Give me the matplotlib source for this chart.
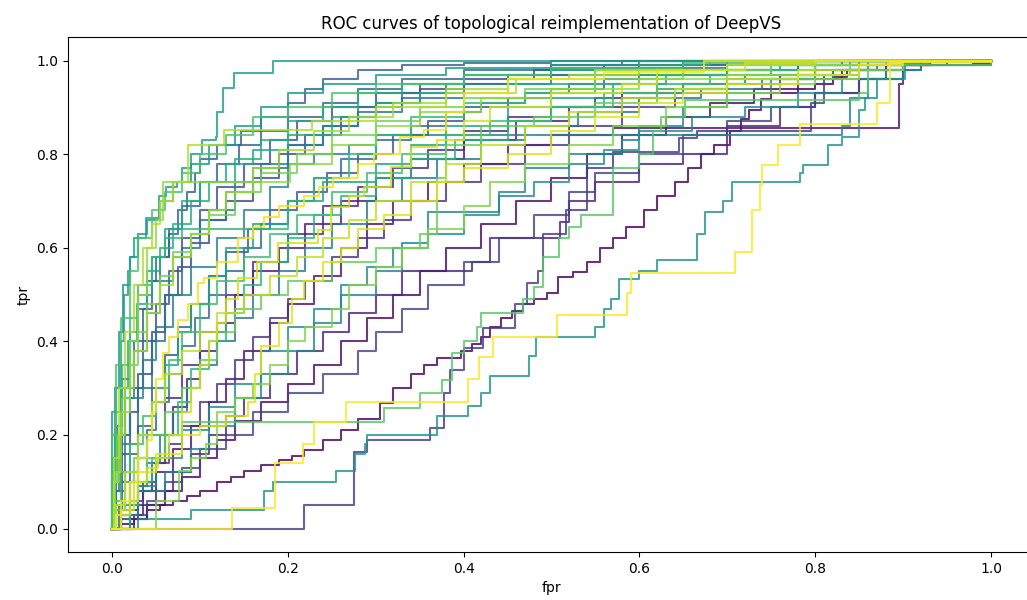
import matplotlib
matplotlib.use('Agg')
import matplotlib.pyplot as plt
import numpy as np

# ROC corner points (fpr, tpr): at each fpr the tpr jumps to the given value
roc_00 = [(0, 0), (0.01, 0.01), (0.025, 0.02), (0.04, 0.04), (0.055, 0.05), (0.07, 0.06), (0.085, 0.07),
          (0.1, 0.08), (0.12, 0.1), (0.135, 0.11), (0.15, 0.124), (0.17, 0.135), (0.19, 0.146), (0.205, 0.155),
          (0.218, 0.167), (0.24, 0.19), (0.26, 0.21), (0.28, 0.235), (0.305, 0.268), (0.32, 0.3), (0.34, 0.33),
          (0.355, 0.35), (0.37, 0.364), (0.397, 0.38), (0.41, 0.395), (0.42, 0.41), (0.43, 0.43), (0.442, 0.45),
          (0.455, 0.465), (0.468, 0.48), (0.48, 0.49), (0.495, 0.503), (0.507, 0.537), (0.525, 0.548),
          (0.54, 0.57), (0.555, 0.6), (0.57, 0.62), (0.585, 0.645), (0.605, 0.68), (0.62, 0.71), (0.64, 0.74),
          (0.655, 0.77), (0.67, 0.8), (0.685, 0.82), (0.703, 0.85), (0.715, 0.875), (0.725, 0.895),
          (0.738, 0.917), (0.75, 0.93), (0.78, 0.94), (0.8, 0.95), (0.82, 0.965), (0.836, 0.98), (0.86, 0.99),
          (0.98, 0.995), (1.0, 1.0)]
roc_01 = [(0, 0), (0.02, 0.02), (0.04, 0.05), (0.06, 0.08), (0.08, 0.11), (0.1, 0.15), (0.12, 0.19), (0.14, 0.23),
          (0.17, 0.27), (0.2, 0.31), (0.23, 0.35), (0.26, 0.4), (0.29, 0.45), (0.32, 0.5), (0.35, 0.55), (0.38, 0.6),
          (0.42, 0.65), (0.46, 0.7), (0.5, 0.75), (0.54, 0.8), (0.58, 0.84), (0.63, 0.88), (0.68, 0.91),
          (0.73, 0.94), (0.78, 0.96), (0.83, 0.98), (0.88, 0.99), (0.93, 1.0), (1, 1)]
roc_02 = [(0, 0), (0.01, 0.04), (0.03, 0.08), (0.05, 0.12), (0.07, 0.17), (0.09, 0.22), (0.11, 0.27), (0.13, 0.32),
          (0.15, 0.38), (0.18, 0.44), (0.2, 0.48), (0.23, 0.54), (0.26, 0.6), (0.29, 0.65), (0.32, 0.7),
          (0.36, 0.74), (0.4, 0.78), (0.45, 0.82), (0.5, 0.84), (0.57, 0.857), (0.895, 0.95), (0.9, 0.99),
          (0.93, 1.0), (1, 1)]
roc_03 = [(0, 0), (0.025, 0.03), (0.035, 0.08), (0.045, 0.14), (0.06, 0.2), (0.07, 0.26), (0.085, 0.32), (0.1, 0.38),
          (0.12, 0.44), (0.14, 0.5), (0.16, 0.55), (0.19, 0.6), (0.22, 0.65), (0.26, 0.7), (0.3, 0.75), (0.34, 0.79),
          (0.4, 0.83), (0.46, 0.87), (0.52, 0.9), (0.58, 0.93), (0.65, 0.95), (0.72, 0.97), (0.8, 0.99),
          (0.85, 1.0), (1, 1)]
roc_04 = [(0, 0), (0.01, 0.02), (0.03, 0.05), (0.05, 0.08), (0.07, 0.12), (0.09, 0.16), (0.11, 0.2), (0.13, 0.24),
          (0.15, 0.28), (0.18, 0.33), (0.21, 0.38), (0.24, 0.42), (0.27, 0.46), (0.3, 0.5), (0.33, 0.55),
          (0.41, 0.57), (0.43, 0.62), (0.51, 0.655), (0.52, 0.7), (0.55, 0.74), (0.6, 0.78), (0.65, 0.8),
          (0.7, 0.86), (0.76, 0.9), (0.8, 0.93), (0.85, 0.96), (0.88, 0.98), (0.92, 1.0), (1, 1)]
roc_05 = [(0, 0), (0.01, 0.05), (0.02, 0.1), (0.03, 0.15), (0.04, 0.2), (0.06, 0.28), (0.08, 0.35), (0.1, 0.42),
          (0.13, 0.5), (0.16, 0.57), (0.2, 0.63), (0.24, 0.69), (0.28, 0.73), (0.32, 0.77), (0.36, 0.81),
          (0.4, 0.85), (0.45, 0.88), (0.5, 0.9), (0.55, 0.92), (0.62, 0.94), (0.7, 0.96), (0.8, 0.98),
          (0.9, 0.99), (1, 1)]
roc_06 = [(0, 0), (0.01, 0.03), (0.02, 0.06), (0.035, 0.1), (0.05, 0.14), (0.065, 0.18), (0.08, 0.22), (0.1, 0.27),
          (0.12, 0.31), (0.14, 0.36), (0.16, 0.41), (0.18, 0.45), (0.2, 0.49), (0.22, 0.53), (0.25, 0.58),
          (0.28, 0.62), (0.31, 0.66), (0.34, 0.7), (0.38, 0.74), (0.42, 0.78), (0.47, 0.82), (0.52, 0.86),
          (0.58, 0.9), (0.64, 0.93), (0.7, 0.95), (0.76, 0.97), (0.82, 0.98), (0.88, 0.99), (0.93, 1.0), (1, 1)]
roc_07 = [(0, 0), (0.218, 0.05), (0.275, 0.163), (0.29, 0.19), (0.362, 0.215), (0.378, 0.29), (0.385, 0.338),
          (0.4, 0.385), (0.422, 0.428), (0.459, 0.48), (0.472, 0.525), (0.485, 0.55), (0.49, 0.63), (0.516, 0.68),
          (0.54, 0.77), (0.57, 0.805), (0.645, 0.835), (0.666, 0.85), (0.795, 0.91), (0.81, 0.97), (0.85, 0.99),
          (1.0, 1.0)]
roc_08 = [(0, 0), (0.02, 0.03), (0.04, 0.06), (0.06, 0.1), (0.08, 0.13), (0.1, 0.17), (0.13, 0.2), (0.16, 0.25),
          (0.2, 0.29), (0.24, 0.33), (0.28, 0.38), (0.3, 0.42), (0.33, 0.47), (0.36, 0.52), (0.4, 0.57),
          (0.44, 0.62), (0.48, 0.67), (0.52, 0.72), (0.55, 0.76), (0.6, 0.8), (0.65, 0.84), (0.7, 0.87),
          (0.75, 0.9), (0.8, 0.93), (0.85, 0.96), (0.9, 0.99), (0.95, 1.0), (1, 1)]
roc_09 = [(0, 0), (0.004, 0.08), (0.01, 0.16), (0.02, 0.25), (0.03, 0.33), (0.045, 0.42), (0.06, 0.5), (0.075, 0.56),
          (0.09, 0.61), (0.11, 0.66), (0.13, 0.7), (0.16, 0.75), (0.19, 0.8), (0.22, 0.84), (0.26, 0.88),
          (0.3, 0.91), (0.35, 0.94), (0.4, 0.96), (0.48, 0.98), (0.56, 0.99), (0.65, 1.0), (1, 1)]
roc_10 = [(0, 0), (0.005, 0.1), (0.012, 0.2), (0.02, 0.3), (0.035, 0.4), (0.05, 0.48), (0.065, 0.55), (0.08, 0.62),
          (0.1, 0.68), (0.12, 0.73), (0.15, 0.78), (0.18, 0.83), (0.21, 0.87), (0.25, 0.9), (0.3, 0.93),
          (0.35, 0.95), (0.4, 0.97), (0.5, 0.985), (0.6, 0.99), (0.75, 1.0), (1, 1)]
roc_11 = [(0, 0), (0.005, 0.04), (0.012, 0.1), (0.02, 0.16), (0.03, 0.22), (0.045, 0.3), (0.06, 0.37), (0.075, 0.43),
          (0.09, 0.48), (0.11, 0.54), (0.13, 0.59), (0.155, 0.64), (0.18, 0.68), (0.21, 0.72), (0.245, 0.76),
          (0.28, 0.8), (0.32, 0.84), (0.36, 0.87), (0.4, 0.9), (0.45, 0.92), (0.5, 0.94), (0.56, 0.96),
          (0.62, 0.97), (0.7, 0.98), (0.78, 0.99), (0.85, 1.0), (1, 1)]
roc_12 = [(0, 0), (0.003, 0.1), (0.008, 0.2), (0.015, 0.3), (0.025, 0.4), (0.035, 0.47), (0.045, 0.53),
          (0.055, 0.58), (0.065, 0.63), (0.075, 0.68), (0.085, 0.72), (0.095, 0.76), (0.1, 0.79), (0.12, 0.82),
          (0.147, 0.85), (0.17, 0.88), (0.2, 0.91), (0.22, 0.94), (0.24, 0.96), (0.28, 0.98), (0.33, 0.99),
          (0.4, 0.995), (0.5, 1.0), (1, 1)]
roc_13 = [(0, 0), (0.002, 0.12), (0.006, 0.22), (0.012, 0.32), (0.02, 0.4), (0.03, 0.47), (0.04, 0.53), (0.05, 0.58),
          (0.065, 0.64), (0.08, 0.69), (0.1, 0.74), (0.12, 0.78), (0.145, 0.82), (0.17, 0.85), (0.2, 0.88),
          (0.24, 0.91), (0.28, 0.94), (0.33, 0.96), (0.4, 0.98), (0.5, 0.99), (0.58, 1.0), (1, 1)]
roc_14 = [(0, 0), (0.008, 0.05), (0.02, 0.1), (0.03, 0.15), (0.04, 0.21), (0.05, 0.27), (0.065, 0.33), (0.08, 0.39),
          (0.095, 0.45), (0.11, 0.5), (0.13, 0.55), (0.15, 0.6), (0.17, 0.65), (0.2, 0.7), (0.23, 0.75),
          (0.26, 0.79), (0.3, 0.83), (0.34, 0.86), (0.38, 0.89), (0.42, 0.91), (0.47, 0.93), (0.52, 0.95),
          (0.6, 0.97), (0.7, 0.98), (0.78, 0.99), (0.83, 1.0), (1, 1)]
roc_15 = [(0, 0), (0.005, 0.08), (0.015, 0.18), (0.03, 0.3), (0.045, 0.4), (0.06, 0.5), (0.08, 0.6), (0.1, 0.66),
          (0.13, 0.72), (0.16, 0.77), (0.2, 0.82), (0.24, 0.86), (0.28, 0.89), (0.33, 0.92), (0.4, 0.95),
          (0.5, 0.97), (0.6, 0.985), (0.7, 0.99), (0.8, 1.0), (1, 1)]
roc_16 = [(0, 0), (0.01, 0.02), (0.02, 0.05), (0.03, 0.09), (0.04, 0.14), (0.055, 0.2), (0.07, 0.25), (0.085, 0.3),
          (0.1, 0.35), (0.12, 0.4), (0.14, 0.45), (0.16, 0.5), (0.19, 0.55), (0.22, 0.6), (0.25, 0.65),
          (0.29, 0.7), (0.33, 0.75), (0.37, 0.79), (0.42, 0.83), (0.47, 0.86), (0.53, 0.89), (0.6, 0.92),
          (0.67, 0.94), (0.74, 0.96), (0.8, 0.98), (0.87, 0.99), (0.9, 1.0), (1, 1)]
roc_17 = [(0, 0), (0.002, 0.08), (0.008, 0.18), (0.015, 0.28), (0.025, 0.38), (0.04, 0.46), (0.055, 0.53),
          (0.07, 0.58), (0.09, 0.63), (0.11, 0.68), (0.14, 0.74), (0.17, 0.78), (0.2, 0.82), (0.24, 0.86),
          (0.28, 0.9), (0.33, 0.93), (0.38, 0.95), (0.45, 0.97), (0.55, 0.985), (0.65, 0.99), (0.7, 1.0), (1, 1)]
roc_18 = [(0, 0), (0.003, 0.1), (0.01, 0.2), (0.02, 0.28), (0.035, 0.36), (0.05, 0.43), (0.07, 0.5), (0.09, 0.56),
          (0.12, 0.62), (0.15, 0.68), (0.18, 0.73), (0.2, 0.78), (0.23, 0.8), (0.27, 0.82), (0.3, 0.84),
          (0.83, 0.86), (0.84, 0.92), (0.86, 0.96), (0.9, 0.99), (0.92, 1.0), (1, 1)]
roc_19 = [(0, 0), (0.01, 0.03), (0.03, 0.08), (0.06, 0.12), (0.09, 0.17), (0.11, 0.22), (0.14, 0.28), (0.17, 0.33),
          (0.2, 0.38), (0.23, 0.44), (0.26, 0.5), (0.3, 0.55), (0.33, 0.61), (0.36, 0.677), (0.44, 0.72),
          (0.47, 0.77), (0.52, 0.8), (0.58, 0.83), (0.6, 0.86), (0.65, 0.9), (0.7, 0.93), (0.75, 0.96),
          (0.82, 0.98), (0.9, 1.0), (1, 1)]
roc_20 = [(0, 0), (0.01, 0.05), (0.03, 0.09), (0.05, 0.15), (0.08, 0.21), (0.11, 0.26), (0.14, 0.31), (0.17, 0.38),
          (0.2, 0.43), (0.23, 0.47), (0.26, 0.52), (0.29, 0.56), (0.32, 0.6), (0.36, 0.63), (0.4, 0.67),
          (0.44, 0.71), (0.48, 0.74), (0.52, 0.78), (0.56, 0.81), (0.6, 0.85), (0.66, 0.88), (0.72, 0.9),
          (0.78, 0.93), (0.83, 0.96), (0.88, 0.98), (0.92, 1.0), (1, 1)]
roc_21 = [(0, 0), (0.03, 0.02), (0.09, 0.04), (0.173, 0.08), (0.183, 0.1), (0.255, 0.123), (0.277, 0.16),
          (0.288, 0.18), (0.29, 0.2), (0.37, 0.24), (0.405, 0.263), (0.42, 0.29), (0.43, 0.327), (0.474, 0.368),
          (0.482, 0.41), (0.55, 0.43), (0.56, 0.47), (0.568, 0.49), (0.577, 0.533), (0.6, 0.55), (0.62, 0.574),
          (0.666, 0.63), (0.675, 0.677), (0.695, 0.7), (0.705, 0.74), (0.783, 0.76), (0.786, 0.777),
          (0.815, 0.82), (0.83, 0.837), (0.85, 0.895), (0.857, 0.92), (0.87, 0.96), (0.902, 0.995),
          (0.93, 1.0), (1, 1)]
roc_22 = [(0, 0), (0.0, 0.15), (0.003, 0.3), (0.008, 0.42), (0.013, 0.52), (0.02, 0.58), (0.03, 0.63), (0.04, 0.66),
          (0.055, 0.7), (0.07, 0.74), (0.09, 0.78), (0.11, 0.82), (0.14, 0.86), (0.17, 0.9), (0.2, 0.93),
          (0.24, 0.95), (0.3, 0.97), (0.38, 0.985), (0.5, 0.99), (0.6, 1.0), (1, 1)]
roc_23 = [(0, 0), (0.0, 0.25), (0.005, 0.3), (0.01, 0.4), (0.014, 0.5), (0.018, 0.55), (0.02, 0.58), (0.025, 0.62),
          (0.039, 0.664), (0.054, 0.71), (0.061, 0.73), (0.074, 0.74), (0.08, 0.77), (0.09, 0.8), (0.103, 0.83),
          (0.118, 0.837), (0.12, 0.89), (0.126, 0.942), (0.139, 0.974), (0.183, 1.0), (1, 1)]
roc_24 = [(0, 0), (0.005, 0.05), (0.015, 0.12), (0.03, 0.2), (0.045, 0.27), (0.06, 0.35), (0.075, 0.42), (0.09, 0.48),
          (0.11, 0.54), (0.13, 0.6), (0.16, 0.65), (0.2, 0.7), (0.24, 0.74), (0.3, 0.78), (0.34, 0.82),
          (0.38, 0.86), (0.45, 0.9), (0.5, 0.92), (0.57, 0.95), (0.63, 0.97), (0.7, 0.98), (0.76, 0.99),
          (0.8, 1.0), (1, 1)]
roc_25 = [(0, 0), (0.002, 0.15), (0.01, 0.3), (0.02, 0.42), (0.03, 0.5), (0.045, 0.58), (0.06, 0.64), (0.08, 0.7),
          (0.1, 0.74), (0.13, 0.78), (0.16, 0.81), (0.2, 0.84), (0.25, 0.88), (0.3, 0.91), (0.35, 0.93),
          (0.45, 0.95), (0.55, 0.97), (0.65, 0.98), (0.75, 0.99), (0.9, 1.0), (1, 1)]
roc_26 = [(0, 0), (0.0, 0.1), (0.004, 0.2), (0.01, 0.3), (0.018, 0.4), (0.028, 0.48), (0.04, 0.55), (0.055, 0.6),
          (0.07, 0.65), (0.09, 0.7), (0.11, 0.74), (0.14, 0.79), (0.17, 0.83), (0.2, 0.87), (0.24, 0.9),
          (0.28, 0.93), (0.33, 0.95), (0.4, 0.97), (0.5, 0.98), (0.6, 0.99), (0.68, 1.0), (1, 1)]
roc_27 = [(0, 0), (0.02, 0.05), (0.03, 0.1), (0.045, 0.15), (0.06, 0.2), (0.075, 0.27), (0.09, 0.34), (0.11, 0.4),
          (0.13, 0.46), (0.15, 0.52), (0.17, 0.57), (0.2, 0.62), (0.23, 0.67), (0.26, 0.71), (0.3, 0.75),
          (0.34, 0.79), (0.39, 0.83), (0.45, 0.87), (0.5, 0.9), (0.56, 0.93), (0.62, 0.95), (0.68, 0.97),
          (0.75, 0.98), (0.8, 0.99), (0.84, 1.0), (1, 1)]
roc_28 = [(0, 0), (0.0, 0.12), (0.005, 0.25), (0.012, 0.35), (0.02, 0.45), (0.03, 0.52), (0.045, 0.58), (0.06, 0.62),
          (0.08, 0.64), (0.2, 0.7), (0.23, 0.75), (0.27, 0.8), (0.3, 0.84), (0.34, 0.88), (0.4, 0.91),
          (0.47, 0.93), (0.55, 0.95), (0.62, 0.97), (0.7, 0.98), (0.8, 0.99), (0.86, 1.0), (1, 1)]
roc_29 = [(0, 0), (0.003, 0.06), (0.01, 0.12), (0.02, 0.18), (0.035, 0.24), (0.05, 0.3), (0.065, 0.36), (0.08, 0.42),
          (0.1, 0.48), (0.12, 0.53), (0.15, 0.58), (0.18, 0.63), (0.21, 0.67), (0.25, 0.72), (0.29, 0.76),
          (0.33, 0.8), (0.38, 0.84), (0.43, 0.87), (0.5, 0.9), (0.57, 0.93), (0.65, 0.95), (0.72, 0.97),
          (0.8, 0.99), (0.86, 1.0), (1, 1)]
roc_30 = [(0, 0), (0.0, 0.2), (0.005, 0.35), (0.01, 0.45), (0.02, 0.55), (0.03, 0.62), (0.045, 0.68), (0.06, 0.72),
          (0.08, 0.76), (0.1, 0.8), (0.13, 0.84), (0.16, 0.88), (0.2, 0.9), (0.25, 0.93), (0.3, 0.95),
          (0.4, 0.97), (0.5, 0.985), (0.65, 0.995), (0.8, 1.0), (1, 1)]
roc_31 = [(0, 0), (0.005, 0.05), (0.02, 0.1), (0.04, 0.15), (0.06, 0.2), (0.08, 0.227), (0.31, 0.257), (0.35, 0.29),
          (0.376, 0.317), (0.387, 0.375), (0.4, 0.4), (0.415, 0.43), (0.42, 0.46), (0.468, 0.49), (0.48, 0.516),
          (0.49, 0.58), (0.508, 0.62), (0.52, 0.645), (0.533, 0.67), (0.57, 0.77), (0.6, 0.8), (0.616, 0.85),
          (0.624, 0.88), (0.652, 0.916), (0.85, 0.93), (0.86, 0.99), (1, 1)]
roc_32 = [(0, 0), (0.005, 0.04), (0.015, 0.1), (0.025, 0.15), (0.04, 0.2), (0.06, 0.25), (0.08, 0.3), (0.1, 0.36),
          (0.12, 0.42), (0.14, 0.47), (0.17, 0.5), (0.2, 0.53), (0.25, 0.57), (0.3, 0.6), (0.35, 0.63),
          (0.37, 0.75), (0.38, 0.82), (0.42, 0.86), (0.48, 0.88), (0.55, 0.91), (0.62, 0.94), (0.7, 0.96),
          (0.8, 0.97), (0.84, 0.99), (0.88, 1.0), (1, 1)]
roc_33 = [(0, 0), (0.002, 0.1), (0.006, 0.2), (0.012, 0.28), (0.02, 0.35), (0.03, 0.42), (0.04, 0.48), (0.055, 0.54),
          (0.07, 0.59), (0.09, 0.63), (0.11, 0.67), (0.14, 0.72), (0.17, 0.76), (0.21, 0.8), (0.25, 0.84),
          (0.3, 0.87), (0.35, 0.9), (0.4, 0.92), (0.47, 0.94), (0.55, 0.96), (0.65, 0.98), (0.75, 0.99),
          (0.85, 1.0), (1, 1)]
roc_34 = [(0, 0), (0.05, 0.06), (0.076, 0.124), (0.09, 0.15), (0.107, 0.18), (0.12, 0.25), (0.14, 0.28),
          (0.16, 0.31), (0.18, 0.35), (0.2, 0.4), (0.22, 0.43), (0.25, 0.47), (0.27, 0.52), (0.3, 0.56),
          (0.33, 0.6), (0.36, 0.64), (0.4, 0.69), (0.43, 0.74), (0.47, 0.78), (0.52, 0.82), (0.57, 0.86),
          (0.63, 0.9), (0.7, 0.93), (0.76, 0.95), (0.8, 0.96), (0.85, 0.98), (0.9, 1.0), (1, 1)]
roc_35 = [(0, 0), (0.003, 0.12), (0.01, 0.25), (0.02, 0.4), (0.03, 0.5), (0.04, 0.6), (0.05, 0.66), (0.058, 0.74),
          (0.203, 0.78), (0.25, 0.82), (0.3, 0.86), (0.35, 0.89), (0.42, 0.92), (0.5, 0.94), (0.6, 0.96),
          (0.7, 0.97), (0.8, 0.99), (0.88, 1.0), (1, 1)]
roc_36 = [(0, 0), (0.002, 0.1), (0.008, 0.2), (0.015, 0.3), (0.025, 0.38), (0.04, 0.46), (0.055, 0.52), (0.07, 0.58),
          (0.09, 0.63), (0.11, 0.68), (0.13, 0.72), (0.16, 0.77), (0.19, 0.81), (0.23, 0.85), (0.27, 0.88),
          (0.32, 0.91), (0.38, 0.94), (0.45, 0.96), (0.52, 0.97), (0.6, 0.98), (0.7, 0.99), (0.8, 1.0), (1, 1)]
roc_37 = [(0, 0), (0.002, 0.15), (0.008, 0.3), (0.015, 0.42), (0.025, 0.52), (0.035, 0.6), (0.045, 0.65),
          (0.055, 0.7), (0.07, 0.74), (0.086, 0.82), (0.127, 0.852), (0.228, 0.87), (0.3, 0.9), (0.38, 0.93),
          (0.46, 0.96), (0.55, 0.98), (0.7, 0.99), (0.8, 1.0), (1, 1)]
roc_38 = [(0, 0), (0.005, 0.05), (0.015, 0.12), (0.03, 0.2), (0.045, 0.27), (0.06, 0.33), (0.08, 0.38), (0.1, 0.42),
          (0.12, 0.46), (0.15, 0.5), (0.18, 0.54), (0.21, 0.58), (0.24, 0.62), (0.27, 0.66), (0.3, 0.7),
          (0.34, 0.74), (0.38, 0.78), (0.42, 0.82), (0.47, 0.86), (0.52, 0.89), (0.58, 0.92), (0.64, 0.94),
          (0.7, 0.96), (0.78, 0.98), (0.85, 0.99), (0.9, 1.0), (1, 1)]
roc_39 = [(0, 0), (0.01, 0.04), (0.025, 0.1), (0.04, 0.13), (0.052, 0.15), (0.065, 0.2), (0.08, 0.25), (0.09, 0.3),
          (0.1, 0.35), (0.11, 0.4), (0.12, 0.44), (0.13, 0.49), (0.143, 0.535), (0.165, 0.57), (0.189, 0.61),
          (0.234, 0.638), (0.249, 0.687), (0.27, 0.71), (0.287, 0.73), (0.317, 0.773), (0.34, 0.816),
          (0.37, 0.83), (0.4, 0.87), (0.43, 0.9), (0.5, 0.93), (0.58, 0.95), (0.62, 0.98), (0.72, 0.995),
          (0.8, 1.0), (1, 1)]
roc_40 = [(0, 0), (0.01, 0.03), (0.02, 0.06), (0.03, 0.12), (0.05, 0.16), (0.08, 0.2), (0.1, 0.22), (0.13, 0.24),
          (0.155, 0.27), (0.163, 0.33), (0.17, 0.39), (0.19, 0.44), (0.205, 0.49), (0.218, 0.53), (0.24, 0.57),
          (0.26, 0.6), (0.28, 0.64), (0.31, 0.67), (0.34, 0.7), (0.37, 0.74), (0.4, 0.77), (0.45, 0.8),
          (0.5, 0.85), (0.55, 0.88), (0.6, 0.91), (0.65, 0.93), (0.7, 0.95), (0.78, 0.97), (0.85, 0.99),
          (0.9, 1.0), (1, 1)]
roc_41 = [(0, 0), (0.005, 0.03), (0.01, 0.06), (0.02, 0.1), (0.03, 0.15), (0.04, 0.19), (0.045, 0.25), (0.05, 0.32),
          (0.058, 0.375), (0.065, 0.41), (0.075, 0.445), (0.086, 0.48), (0.098, 0.525), (0.105, 0.535),
          (0.12, 0.57), (0.143, 0.62), (0.16, 0.645), (0.173, 0.666), (0.19, 0.69), (0.218, 0.71), (0.235, 0.73),
          (0.252, 0.75), (0.28, 0.78), (0.298, 0.8), (0.328, 0.837), (0.355, 0.852), (0.38, 0.89), (0.4, 0.93),
          (0.45, 0.96), (0.56, 0.975), (0.673, 1.0), (1, 1)]
roc_42 = [(0, 0), (0.137, 0.045), (0.186, 0.14), (0.217, 0.18), (0.23, 0.227), (0.266, 0.27), (0.405, 0.32),
          (0.418, 0.366), (0.434, 0.41), (0.506, 0.456), (0.586, 0.503), (0.59, 0.546), (0.709, 0.59),
          (0.728, 0.68), (0.737, 0.734), (0.74, 0.777), (0.758, 0.82), (0.783, 0.865), (0.87, 0.91),
          (0.885, 0.998), (1.0, 1.0)]

curves = [roc_00, roc_01, roc_02, roc_03, roc_04, roc_05, roc_06, roc_07, roc_08, roc_09, roc_10,
          roc_11, roc_12, roc_13, roc_14, roc_15, roc_16, roc_17, roc_18, roc_19, roc_20, roc_21,
          roc_22, roc_23, roc_24, roc_25, roc_26, roc_27, roc_28, roc_29, roc_30, roc_31, roc_32,
          roc_33, roc_34, roc_35, roc_36, roc_37, roc_38, roc_39, roc_40, roc_41, roc_42]

colors = plt.cm.viridis(np.linspace(0, 1, len(curves)))

fig = plt.figure(figsize=(10.27, 6.0), dpi=100)
# axes run past the right edge, as in the cropped original
ax = fig.add_axes([0.0662, 0.08, 0.9416, 0.858])

for pts, c in zip(curves, colors):
    fpr, tpr = zip(*pts)
    ax.step(fpr, tpr, where='post', color=c, alpha=0.8, lw=1.5)

ax.set_xlim(-0.05, 1.05)
ax.set_ylim(-0.05, 1.05)
ax.set_xticks([0.0, 0.2, 0.4, 0.6, 0.8, 1.0])
ax.set_yticks([0.0, 0.2, 0.4, 0.6, 0.8, 1.0])
ax.set_title('ROC curves of topological reimplementation of DeepVS')
ax.set_xlabel('fpr')
ax.set_ylabel('tpr')

fig.savefig('out.png', dpi=100)
